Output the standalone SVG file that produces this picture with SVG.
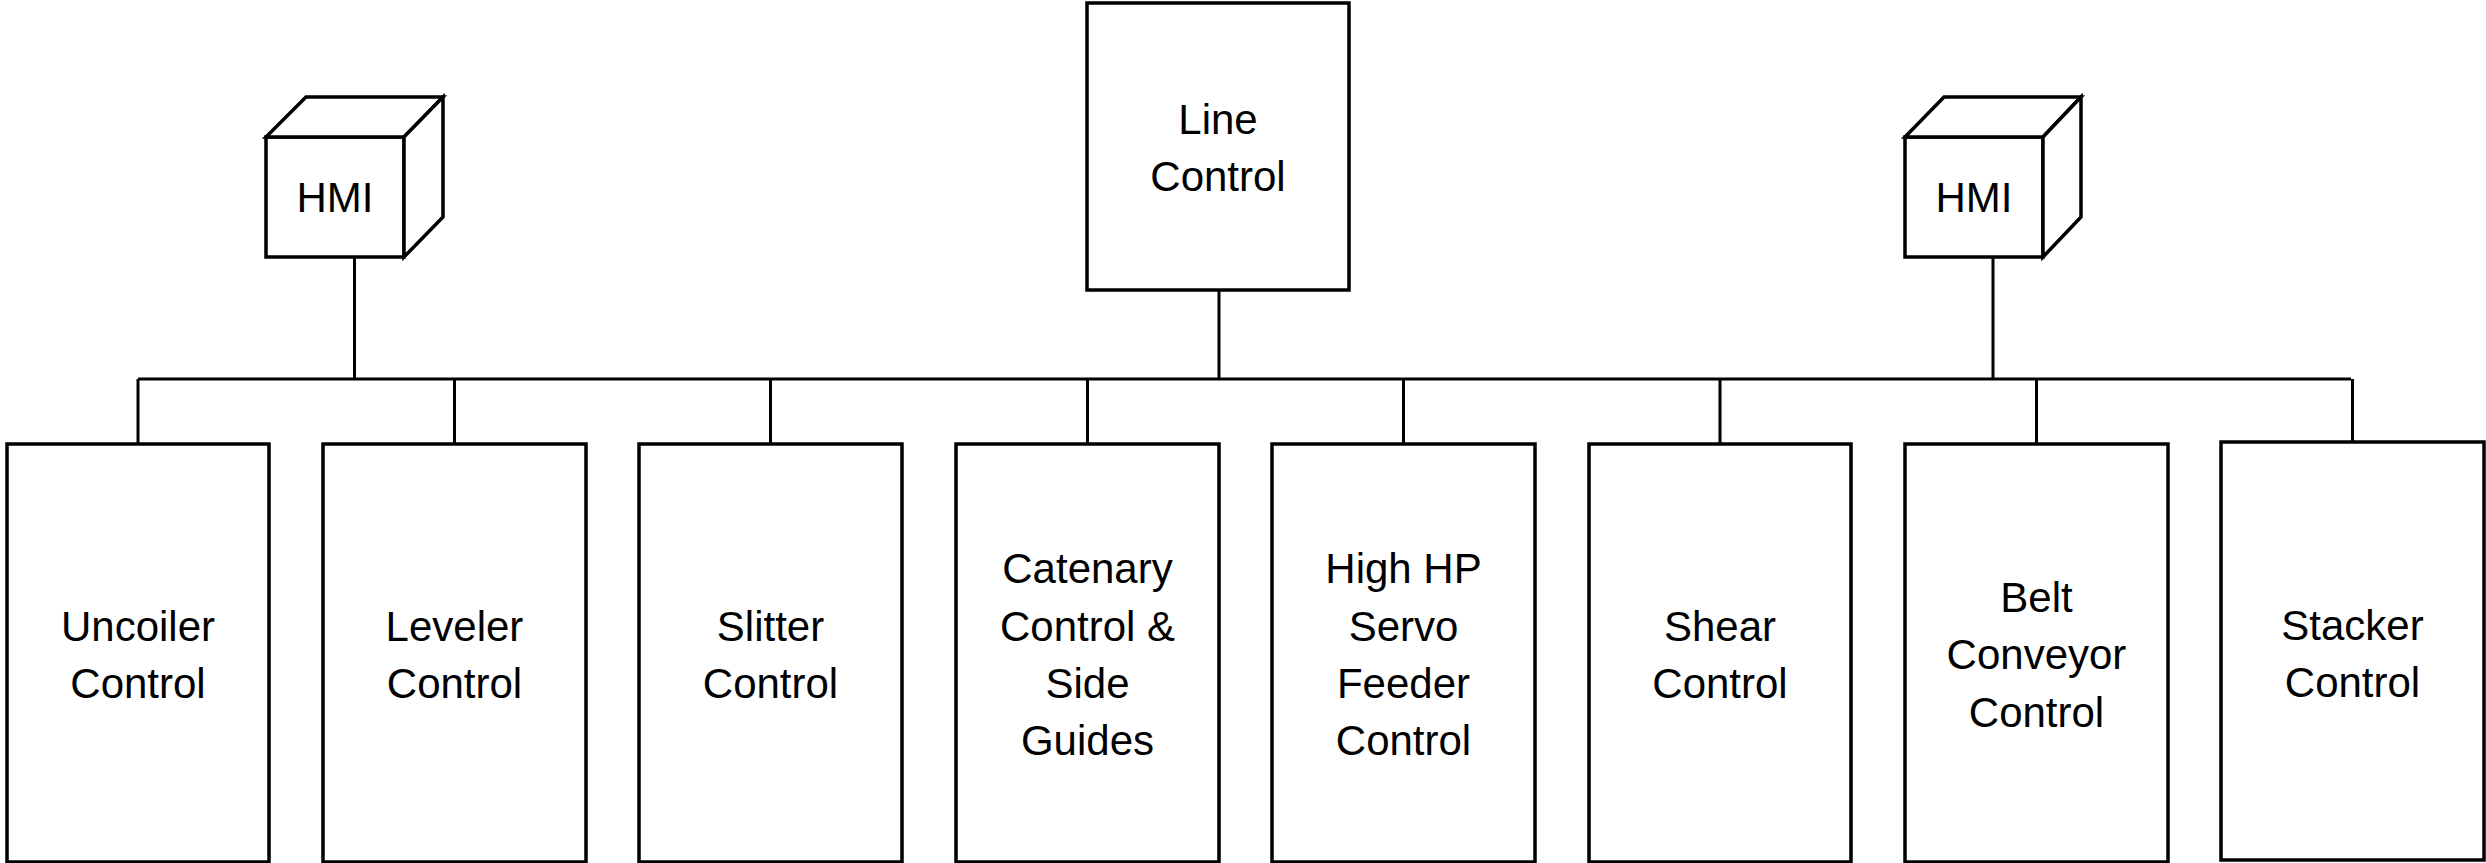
<svg xmlns="http://www.w3.org/2000/svg" width="2486" height="863" viewBox="0 0 2486 863">
<style>
.box{fill:#fff;stroke:#000;stroke-width:3.5;stroke-linejoin:miter}
.ln{fill:none;stroke:#000;stroke-width:3}
text{font-family:"Liberation Sans",Arial,sans-serif;font-size:42px;fill:#000;text-anchor:middle}
</style>
<rect width="2486" height="863" fill="#fff"/>
<g id="connectors">
<path class="ln" d="M138,379 H2351"/>
<path class="ln" d="M354.5,257 V379 M1219,290 V379 M1993,257 V379"/>
<path class="ln" d="M138,379 V444 M454.5,379 V444 M770.5,379 V444 M1087.5,379 V444 M1403.5,379 V444 M1720,379 V444 M2036.5,379 V444 M2352.5,379 V442"/>
</g>
<g id="hmi-left">
<rect class="box" x="266" y="137" width="138" height="120"/>
<path class="box" d="M266,137 L306,97 H443 L404,137 Z"/>
<path class="box" d="M404,137 L443,97 V217 L404,257 Z"/>
<text x="335" y="212">HMI</text>
</g>
<g id="line-control">
<rect class="box" x="1087" y="3" width="262" height="287"/>
<text x="1218" y="134">Line</text>
<text x="1218" y="191">Control</text>
</g>
<g id="hmi-right">
<rect class="box" x="1905" y="137" width="138" height="120"/>
<path class="box" d="M1905,137 L1944,97 H2081 L2043,137 Z"/>
<path class="box" d="M2043,137 L2081,97 V217 L2043,257 Z"/>
<text x="1974" y="212">HMI</text>
</g>
<g id="uncoiler">
<rect class="box" x="7" y="444" width="262" height="418"/>
<text x="138" y="641">Uncoiler</text>
<text x="138" y="698">Control</text>
</g>
<g id="leveler">
<rect class="box" x="323" y="444" width="263" height="418"/>
<text x="454.5" y="641">Leveler</text>
<text x="454.5" y="698">Control</text>
</g>
<g id="slitter">
<rect class="box" x="639" y="444" width="263" height="418"/>
<text x="770.5" y="641">Slitter</text>
<text x="770.5" y="698">Control</text>
</g>
<g id="catenary">
<rect class="box" x="956" y="444" width="263" height="418"/>
<text x="1087.5" y="583">Catenary</text>
<text x="1087.5" y="641">Control &amp;</text>
<text x="1087.5" y="698">Side</text>
<text x="1087.5" y="755">Guides</text>
</g>
<g id="servo-feeder">
<rect class="box" x="1272" y="444" width="263" height="418"/>
<text x="1403.5" y="583">High HP</text>
<text x="1403.5" y="641">Servo</text>
<text x="1403.5" y="698">Feeder</text>
<text x="1403.5" y="755">Control</text>
</g>
<g id="shear">
<rect class="box" x="1589" y="444" width="262" height="418"/>
<text x="1720" y="641">Shear</text>
<text x="1720" y="698">Control</text>
</g>
<g id="belt-conveyor">
<rect class="box" x="1905" y="444" width="263" height="418"/>
<text x="2036.5" y="612">Belt</text>
<text x="2036.5" y="669">Conveyor</text>
<text x="2036.5" y="727">Control</text>
</g>
<g id="stacker">
<rect class="box" x="2221" y="442" width="263" height="418"/>
<text x="2352.5" y="640">Stacker</text>
<text x="2352.5" y="697">Control</text>
</g>
</svg>
